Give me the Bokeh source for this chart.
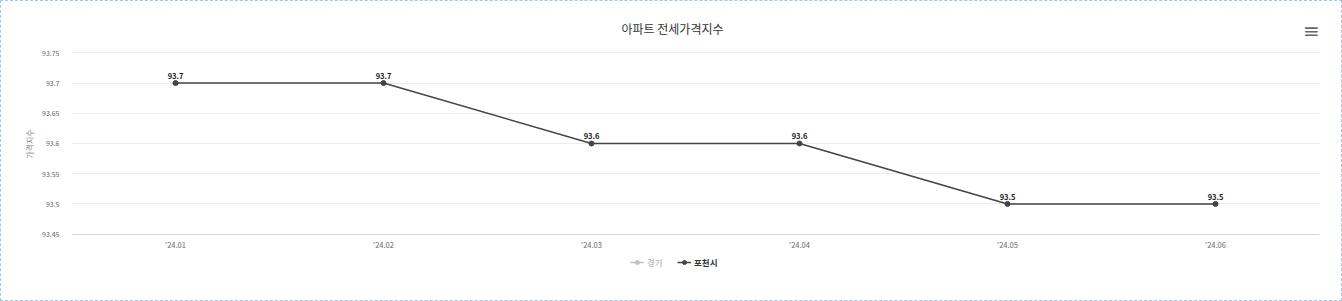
from bokeh.plotting import figure
from bokeh.models import ColumnDataSource, FactorRange, Range1d, FixedTicker, Legend, LegendItem, Label
from bokeh.core.properties import value
from bokeh.embed import file_html
from bokeh.resources import INLINE

title_text = "아파트 전세가격지수"
y_title = "가격지수"
months = ["'24.01", "'24.02", "'24.03", "'24.04", "'24.05", "'24.06"]
pocheon = [93.7, 93.7, 93.6, 93.6, 93.5, 93.5]
pocheon_labels = ["93.7", "93.7", "93.6", "93.6", "93.5", "93.5"]
# 경기 series is hidden (deselected) in the reference; its values are not shown
gyeonggi_months = ["'24.01"]
gyeonggi = [float("nan")]
y_ticks = [93.45, 93.5, 93.55, 93.6, 93.65, 93.7, 93.75]
y_tick_labels = ["93.45", "93.5", "93.55", "93.6", "93.65", "93.7", "93.75"]
series_names = ["경기", "포천시"]

FONT = "Noto Sans CJK KR"

# frame spans the whole height so that title, menu and legend (drawn inside it) are not clipped
Y_LO, Y_HI = 93.45, 93.75
PAD_TOP = (Y_HI - Y_LO) * 51 / 180
PAD_BOT = (Y_HI - Y_LO) * 52 / 180

p = figure(width=1342, height=301, output_backend="svg", toolbar_location=None,
           x_range=FactorRange(*months, range_padding=0),
           y_range=Range1d(Y_LO - PAD_BOT, Y_HI + PAD_TOP),
           min_border_left=70, min_border_right=24, min_border_top=0, min_border_bottom=16)
p.outline_line_color = None
p.styles = {"border": "1px dashed #a9c6e0", "box-sizing": "border-box"}

src = ColumnDataSource(dict(x=months, y=pocheon, lab=pocheon_labels))
src_g = ColumnDataSource(dict(x=gyeonggi_months, y=gyeonggi))

rg_line = p.line("x", "y", source=src_g, line_color="#333333", line_width=1.5)
rg_pt = p.scatter("x", "y", source=src_g, marker="circle", size=5, fill_color="#333333", line_color="#333333")
rg_line.visible = False
rg_pt.visible = False

r_line = p.line("x", "y", source=src, line_color="#434348", line_width=1.5)
r_pt = p.scatter("x", "y", source=src, marker="circle", size=5, fill_color="#434348", line_color="#434348")
p.text("x", "y", text="lab", source=src, text_align="center", text_baseline="bottom",
       y_offset=-4, text_font=value(FONT), text_font_size="7.5px", text_font_style="bold",
       text_color="#222222")

p.yaxis.ticker = FixedTicker(ticks=y_ticks)
p.yaxis.major_label_overrides = {t: s for t, s in zip(y_ticks, y_tick_labels)}
p.yaxis.axis_line_color = None
p.yaxis.major_tick_line_color = None
p.yaxis.minor_tick_line_color = None
p.yaxis.major_label_text_font = FONT
p.yaxis.major_label_text_font_size = "7px"
p.yaxis.major_label_text_color = "#666666"
p.yaxis.major_label_standoff = 6
p.yaxis.axis_label = y_title
p.yaxis.axis_label_text_font = FONT
p.yaxis.axis_label_text_font_size = "8px"
p.yaxis.axis_label_text_font_style = "normal"
p.yaxis.axis_label_text_color = "#888888"
p.yaxis.axis_label_standoff = 4

p.xaxis.fixed_location = Y_LO
p.xaxis.axis_line_color = "#ccd6eb"
p.xaxis.major_tick_line_color = None
p.xaxis.minor_tick_line_color = None
p.xaxis.major_label_text_font = FONT
p.xaxis.major_label_text_font_size = "7.5px"
p.xaxis.major_label_text_color = "#666666"
p.xaxis.major_label_standoff = -1

p.xgrid.grid_line_color = None
p.ygrid.grid_line_color = "#ececec"

title = Label(x=601, y=258, x_units="screen", y_units="screen", text=title_text,
              text_align="center", text_baseline="middle", text_font=FONT,
              text_font_size="12px", text_color="#333333")
p.add_layout(title)

menu = Label(x=1240, y=256, x_units="screen", y_units="screen", text="≡", text_align="center",
             text_baseline="middle", text_font="DejaVu Sans", text_font_size="20px",
             text_color="#666666")
p.add_layout(menu)

legend = Legend(items=[LegendItem(label=series_names[0], renderers=[rg_line, rg_pt]),
                       LegendItem(label=series_names[1], renderers=[r_line, r_pt])],
                orientation="horizontal", location=(559, 18), click_policy="hide",
                label_text_font=FONT, label_text_font_size="8.5px", label_text_color="#333333",
                label_text_font_style="bold", label_standoff=3,
                glyph_width=14, glyph_height=10, spacing=10, padding=2, margin=0,
                border_line_color=None, background_fill_alpha=0,
                inactive_fill_color="white", inactive_fill_alpha=0.7)
p.add_layout(legend)

open("out.html", "w").write(file_html(p, INLINE))
